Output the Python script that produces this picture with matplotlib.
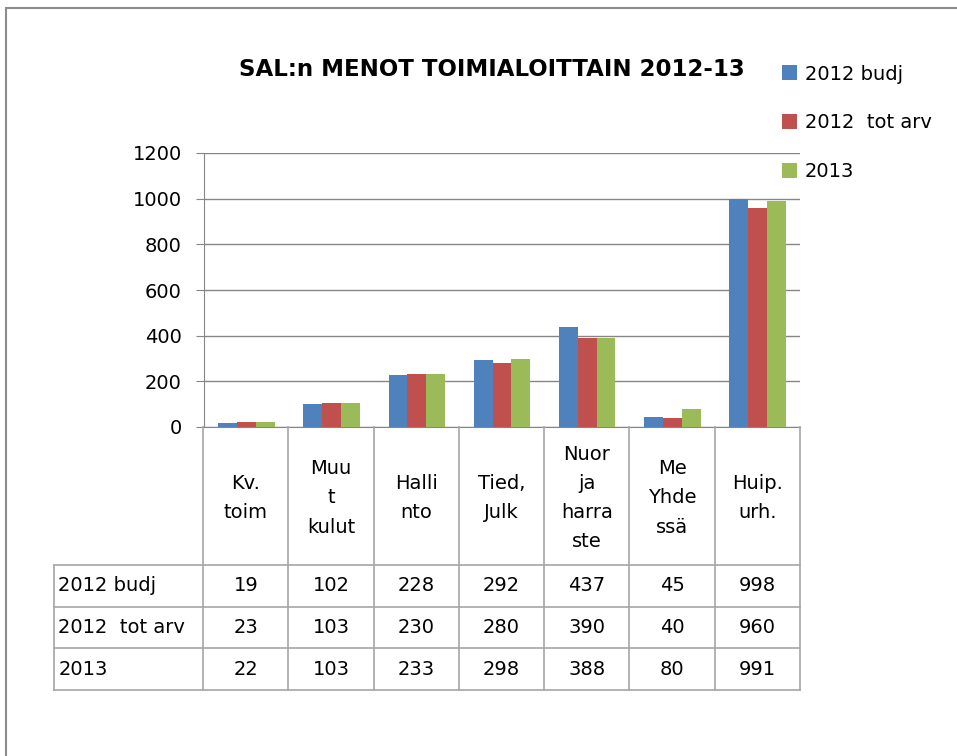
import matplotlib
matplotlib.use("Agg")
from matplotlib import pyplot as plt
from matplotlib.patches import Rectangle
import numpy as np

plt.rcParams['font.family'] = ['DejaVu Sans']

title = "SAL:n MENOT TOIMIALOITTAIN 2012-13"
categories = ["Kv.\ntoim", "Muu\nt\nkulut", "Halli\nnto", "Tied,\nJulk",
              "Nuor\nja\nharra\nste", "Me\nYhde\nssä", "Huip.\nurh."]
series_names = ["2012 budj", "2012  tot arv", "2013"]
budj_2012 = [19, 102, 228, 292, 437, 45, 998]
totarv_2012 = [23, 103, 230, 280, 390, 40, 960]
v2013 = [22, 103, 233, 298, 388, 80, 991]
yticks = [0, 200, 400, 600, 800, 1000, 1200]

colors = ["#4F81BD", "#C0504D", "#9BBB59"]
grid_c = "#868686"
line_c = "#a6a6a6"

W, H = 957, 756
fig = plt.figure(figsize=(W / 100, H / 100), dpi=100)


def px_rect(x0, y0, x1, y1):
    # pixel box (from top-left) -> figure fraction
    return [x0 / W, 1 - y1 / H, (x1 - x0) / W, (y1 - y0) / H]


# outer chart frame
fig.patches.append(Rectangle((6 / W, -0.1), 1.1, 1 - 8 / H + 0.1, transform=fig.transFigure,
                             fill=False, edgecolor="#8c8c8c", linewidth=1.5))

# bar plot
ax = fig.add_axes(px_rect(204, 153, 800, 427))
series = [budj_2012, totarv_2012, v2013]
n = len(categories)
x = np.arange(n) + 0.5
bw = 0.222
for k, (vals, name) in enumerate(zip(series, series_names)):
    ax.bar(x + (k - 1) * bw, vals, bw, color=colors[k], label=name, zorder=3)
ax.set_xlim(0, n)
ax.set_ylim(0, 1200)
ax.set_yticks(yticks)
ax.set_yticklabels([str(t) for t in yticks], fontsize=14)
ax.set_xticks([])
ax.grid(axis="y", color=grid_c, linewidth=1, zorder=0)
for s in ["top", "right"]:
    ax.spines[s].set_visible(False)
ax.spines["left"].set_color(grid_c)
ax.spines["bottom"].set_color(grid_c)
ax.tick_params(axis="y", length=6, color=grid_c, pad=10)

# legend
handles, labels = ax.get_legend_handles_labels()
fig.legend(handles, labels, loc="upper left", bbox_to_anchor=(764 / W, 1 - 47 / H),
           frameon=False, fontsize=14, handlelength=0.8, handleheight=0.8,
           handletextpad=0.4, labelspacing=1.53)

fig.text(492 / W, 1 - 70 / H, title, ha="center", va="center",
         fontsize=16.5, fontweight="bold")

# data table
tab = fig.add_axes(px_rect(54, 427, 800, 690))
tab.set_xlim(-1.75, n)
head_h = 138.0
row_h = (690 - 427 - head_h) / 3
tab.set_ylim(690 - 427, 0)
tab.axis("off")
total = 690 - 427
for i in range(n + 1):
    tab.plot([i, i], [0, total], color=line_c, lw=1.2, clip_on=False)
tab.plot([-1.75, -1.75], [head_h, total], color=line_c, lw=1.2, clip_on=False)
for r in range(4):
    y = head_h + r * row_h
    tab.plot([-1.75, n], [y, y], color=line_c, lw=1.2, clip_on=False)
for i, c in enumerate(categories):
    tab.text(i + 0.5, head_h / 2 + 2, c, ha="center", va="center", fontsize=14,
             linespacing=1.68)
for r, (vals, name) in enumerate(zip(series, series_names)):
    yc = head_h + (r + 0.5) * row_h
    tab.text(-1.7, yc, name, ha="left", va="center", fontsize=14)
    for i, v in enumerate(vals):
        tab.text(i + 0.5, yc, str(v), ha="center", va="center", fontsize=14)

fig.savefig("out.png", dpi=100)
